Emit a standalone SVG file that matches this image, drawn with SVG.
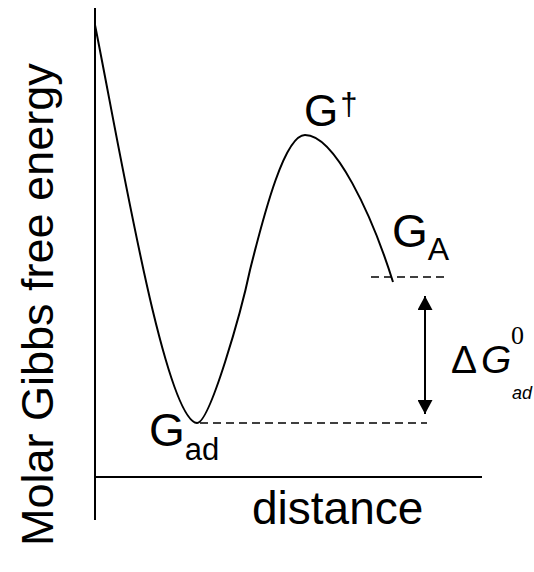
<svg xmlns="http://www.w3.org/2000/svg" width="534" height="572" viewBox="0 0 534 572">
<defs>
<style>
.t{font-family:"Liberation Sans",Arial,sans-serif;fill:#000}
.ax{stroke:#000;stroke-width:2;fill:none}
.cv{stroke:#000;stroke-width:2;fill:none}
.ds{stroke:#000;stroke-width:1.5;stroke-dasharray:8 5;fill:none}
</style>
<marker id="ah" viewBox="0 0 14 15" refX="14" refY="7.5" markerWidth="14" markerHeight="15" markerUnits="userSpaceOnUse" orient="auto-start-reverse">
<path d="M0,0 L14,7.5 L0,15 Z" fill="#000"/>
</marker>
</defs>
<rect width="534" height="572" fill="#fff"/>
<g id="axes">
<line class="ax" x1="95" y1="8" x2="95" y2="520"/>
<line class="ax" x1="94" y1="477" x2="482" y2="477"/>
</g>
<g id="y-label">
<text class="t" font-size="45" transform="translate(53,546) rotate(-90)">Molar Gibbs free energy</text>
</g>
<g id="x-label">
<text class="t" font-size="46" x="252" y="524">distance</text>
</g>
<g id="curve">
<path class="cv" d="M95,25 C120,150 165,420 197,423 C210,423 241.6,310 250,270 C265,210 285,135 305,135 C335,135 372,215 393,282"/>
</g>
<g id="connectors">
<line class="ds" x1="200" y1="423" x2="427" y2="423"/>
<line class="ds" x1="371" y1="277" x2="444" y2="277"/>
<line stroke="#000" stroke-width="2" x1="425" y1="296" x2="425" y2="414" marker-start="url(#ah)" marker-end="url(#ah)"/>
</g>
<g id="G-dagger">
<text class="t" font-size="44" x="304" y="126">G<tspan font-size="31" dx="2" dy="-11">†</tspan></text>
</g>
<g id="G-A">
<text class="t" font-size="46" x="392" y="247">G<tspan font-size="32" dy="13">A</tspan></text>
</g>
<g id="G-ad">
<text class="t" font-size="46" x="149" y="446">G<tspan font-size="31" dy="14">ad</tspan></text>
</g>
<g id="dG">
<text class="t" font-size="39" x="451" y="373">Δ<tspan font-style="italic" x="481">G</tspan></text>
<text font-family="'Liberation Serif','Times New Roman',serif" font-size="26" x="511" y="344">0</text>
<text class="t" font-size="18" font-style="italic" x="512" y="399">ad</text>
</g>
</svg>
